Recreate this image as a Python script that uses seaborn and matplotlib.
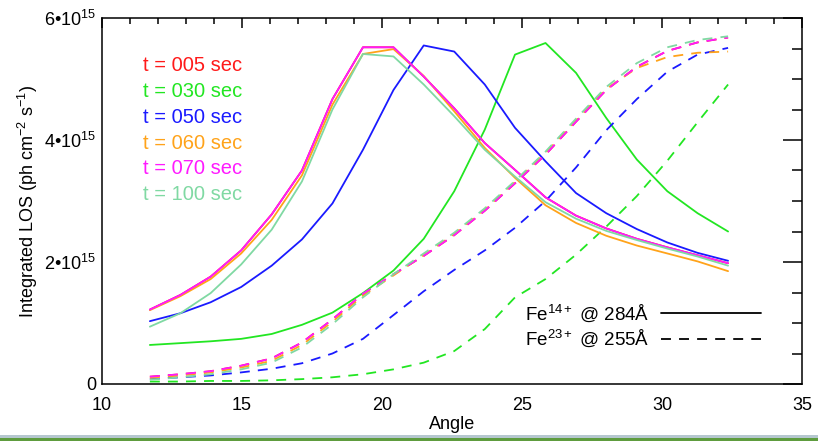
import matplotlib
matplotlib.use("Agg")
import matplotlib.pyplot as plt
import numpy as np
import pandas as pd
import seaborn as sns
from matplotlib.lines import Line2D
from matplotlib.patches import Rectangle
from matplotlib.ticker import MultipleLocator, FuncFormatter

# ---------------- data (values in units of 1e15 ph cm^-2 s^-1) ----------------
angles = [11.71, 12.80, 13.88, 14.97, 16.06, 17.14, 18.23, 19.32, 20.41, 21.49,
          22.58, 23.67, 24.75, 25.84, 26.93, 28.01, 29.10, 30.19, 31.27, 32.36]

times = ["t = 005 sec", "t = 030 sec", "t = 050 sec", "t = 060 sec", "t = 070 sec", "t = 100 sec"]
colors = ["#ff1a1a", "#22e622", "#1a1aff", "#ffa31a", "#ff1aff", "#80d9a3"]

# Fe14+ @ 284 A (solid)
fe14_t005 = [1.22, 1.46, 1.76, 2.19, 2.78, 3.50, 4.67, 5.52, 5.52, 5.04, 4.52, 3.95, 3.51, 3.06, 2.76, 2.55, 2.38, 2.24, 2.11, 1.98]
fe14_t030 = [0.64, 0.67, 0.70, 0.74, 0.82, 0.97, 1.17, 1.49, 1.86, 2.38, 3.16, 4.17, 5.40, 5.59, 5.10, 4.36, 3.68, 3.16, 2.80, 2.50]
fe14_t050 = [1.03, 1.16, 1.34, 1.59, 1.94, 2.37, 2.96, 3.84, 4.82, 5.55, 5.45, 4.91, 4.20, 3.65, 3.13, 2.80, 2.54, 2.32, 2.15, 2.02]
fe14_t060 = [1.21, 1.44, 1.72, 2.14, 2.69, 3.42, 4.58, 5.41, 5.49, 5.05, 4.47, 3.87, 3.38, 2.93, 2.64, 2.43, 2.27, 2.14, 2.01, 1.85]
fe14_t070 = [1.22, 1.46, 1.76, 2.19, 2.78, 3.50, 4.67, 5.52, 5.52, 5.04, 4.52, 3.95, 3.51, 3.06, 2.76, 2.55, 2.38, 2.24, 2.11, 1.98]
fe14_t100 = [0.94, 1.16, 1.49, 1.96, 2.53, 3.32, 4.50, 5.41, 5.37, 4.91, 4.39, 3.84, 3.40, 2.98, 2.71, 2.51, 2.36, 2.22, 2.09, 1.94]

# Fe23+ @ 255 A (dashed)
fe23_t005 = [0.12, 0.16, 0.21, 0.30, 0.42, 0.68, 1.06, 1.48, 1.80, 2.10, 2.44, 2.84, 3.29, 3.76, 4.30, 4.82, 5.20, 5.46, 5.60, 5.68]
fe23_t030 = [0.04, 0.04, 0.05, 0.05, 0.06, 0.08, 0.11, 0.16, 0.24, 0.35, 0.54, 0.90, 1.42, 1.72, 2.12, 2.58, 3.08, 3.66, 4.29, 4.91]
fe23_t050 = [0.08, 0.11, 0.14, 0.19, 0.25, 0.34, 0.50, 0.74, 1.13, 1.52, 1.87, 2.19, 2.56, 3.00, 3.55, 4.16, 4.67, 5.12, 5.40, 5.51]
fe23_t060 = [0.10, 0.14, 0.19, 0.27, 0.38, 0.64, 1.02, 1.45, 1.78, 2.11, 2.46, 2.86, 3.31, 3.79, 4.32, 4.84, 5.18, 5.36, 5.43, 5.45]
fe23_t070 = [0.12, 0.16, 0.21, 0.30, 0.42, 0.68, 1.06, 1.48, 1.80, 2.10, 2.44, 2.84, 3.29, 3.76, 4.30, 4.82, 5.20, 5.46, 5.60, 5.68]
fe23_t100 = [0.07, 0.11, 0.16, 0.24, 0.35, 0.60, 0.98, 1.42, 1.80, 2.14, 2.48, 2.88, 3.33, 3.81, 4.35, 4.87, 5.26, 5.52, 5.64, 5.70]

ion_labels = ["Fe$^{14+}$ @ 284Å", "Fe$^{23+}$ @ 255Å"]

fe14 = [fe14_t005, fe14_t030, fe14_t050, fe14_t060, fe14_t070, fe14_t100]
fe23 = [fe23_t005, fe23_t030, fe23_t050, fe23_t060, fe23_t070, fe23_t100]

rows = []
for t, s14, s23 in zip(times, fe14, fe23):
    for a, v in zip(angles, s14):
        rows.append({"angle": a, "los": v * 1e15, "time": t, "ion": "Fe14"})
    for a, v in zip(angles, s23):
        rows.append({"angle": a, "los": v * 1e15, "time": t, "ion": "Fe23"})
df = pd.DataFrame(rows)

# ---------------- style ----------------
sns.set_theme(style="white")
plt.rcParams["font.family"] = ["Liberation Sans", "DejaVu Sans"]
plt.rcParams["mathtext.fontset"] = "custom"
plt.rcParams["mathtext.rm"] = "Liberation Sans"
plt.rcParams["mathtext.it"] = "Liberation Sans:italic"
plt.rcParams["mathtext.bf"] = "Liberation Sans:bold"
plt.rcParams["mathtext.default"] = "rm"

fig = plt.figure(figsize=(8.18, 4.41), dpi=100)
ax = fig.add_axes([102 / 818, 57 / 441, 700 / 818, 366 / 441])

palette = dict(zip(times, colors))
sns.lineplot(data=df, x="angle", y="los", hue="time", style="ion",
             hue_order=times, style_order=["Fe14", "Fe23"],
             palette=palette, dashes={"Fe14": "", "Fe23": (5.5, 4.5)},
             linewidth=1.3, estimator=None, errorbar=None, legend=False, ax=ax)

ax.set_xlim(10, 35)
ax.set_ylim(0, 6e15)
ax.xaxis.set_major_locator(MultipleLocator(5))
ax.xaxis.set_minor_locator(MultipleLocator(1))
ax.yaxis.set_major_locator(MultipleLocator(2e15))
ax.yaxis.set_minor_locator(MultipleLocator(0.5e15))


def yfmt(v, pos):
    if abs(v) < 1:
        return "0"
    return "%d•10$^{15}$" % round(v / 1e15)


ax.yaxis.set_major_formatter(FuncFormatter(yfmt))
ax.tick_params(axis="both", which="both", direction="in", top=True, right=True,
               color="black", labelcolor="black", labelsize=13, width=1.1)
ax.tick_params(axis="x", which="major", length=7, pad=9)
ax.tick_params(axis="x", which="minor", length=4)
ax.tick_params(axis="y", which="major", length=14, pad=4)
ax.tick_params(axis="y", which="minor", length=7)
for sp in ax.spines.values():
    sp.set_color("black")
    sp.set_linewidth(1.1)

ax.set_xlabel("Angle", fontsize=13, color="black", labelpad=2)
ax.set_ylabel("Integrated LOS (ph cm$^{-2}$ s$^{-1}$)", fontsize=13, color="black", labelpad=3)

# time legend (coloured text only)
thandles = [Line2D([], [], color=c) for c in colors]
leg1 = ax.legend(thandles, times, loc="upper left", bbox_to_anchor=(0.058, 0.896),
                 frameon=False, handlelength=0, handletextpad=0, fontsize=14.5,
                 labelspacing=0.34, borderpad=0, borderaxespad=0, labelcolor=colors)
ax.add_artist(leg1)

# ion legend
ihandles = [Line2D([], [], color="black", lw=1.3),
            Line2D([], [], color="black", lw=1.3, dashes=(5.5, 4.5))]
ax.legend(ihandles, ion_labels, loc="upper left", bbox_to_anchor=(0.604, 0.222),
          frameon=False, markerfirst=False, handlelength=5.3, handletextpad=0.65,
          fontsize=13.5, labelspacing=0.2, borderpad=0, borderaxespad=0, labelcolor="black")

# decorative bottom band
fig.add_artist(Rectangle((0, 0), 1, 3 / 441, transform=fig.transFigure, color="#5e9c3e", lw=0))
fig.add_artist(Rectangle((0, 3 / 441), 1, 3 / 441, transform=fig.transFigure, color="#b5c7cf", lw=0))

fig.savefig("out.png", dpi=100)
